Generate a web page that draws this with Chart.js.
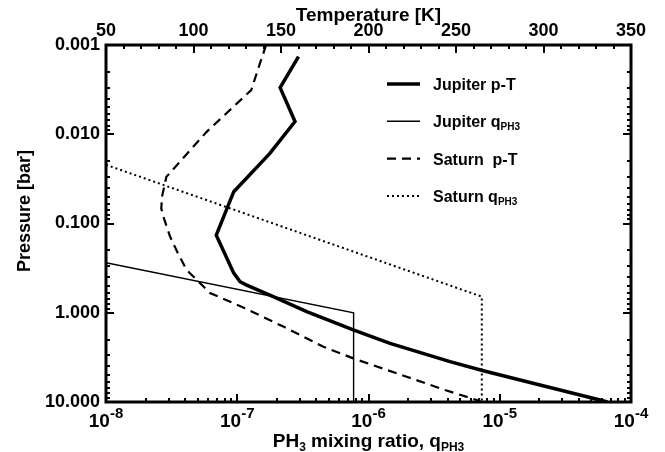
<!DOCTYPE html>
<html><head><meta charset="utf-8">
<script src="https://cdn.jsdelivr.net/npm/chart.js@4"></script>
<style>html,body{margin:0;padding:0;background:#fff}#wrap{width:665px;height:452px;position:relative}</style>
</head><body><div id="wrap"><canvas id="c" width="665" height="452"></canvas></div>
<script>
// ---- data ----
const jupiterTemperature = [160, 149.5, 158, 143.5, 123, 113, 123, 126.6, 130.4, 145.6, 164.7, 191.3, 212.3, 246.6, 265.6, 298, 332.3, 336.5];
const jupiterPressureT   = [0.00135, 0.003, 0.0072, 0.0165, 0.044, 0.135, 0.36, 0.449, 0.49, 0.661, 0.972, 1.56, 2.2, 3.53, 4.46, 6.45, 9.5, 10];
const saturnTemperature  = [141.5, 138, 133, 107.5, 84.5, 82, 81.6, 82.8, 86.6, 91.3, 96, 109.4, 129.4, 151.3, 174.2, 192.3, 221.8, 243.7, 261.8, 264.5];
const saturnPressureT    = [0.001, 0.0016, 0.0032, 0.0094, 0.03, 0.05, 0.068, 0.084, 0.14, 0.22, 0.33, 0.6, 0.891, 1.43, 2.4, 3.3, 5.21, 7.34, 9.5, 10];
const jupiterPH3         = [1e-8, 7.7e-7, 7.7e-7];
const jupiterPressureQ   = [0.275, 1.0, 10];
const saturnPH3          = [1e-8, 7.3e-6, 7.3e-6];
const saturnPressureQ    = [0.022, 0.66, 10];

const seriesNames = ['Jupiter p-T', 'Jupiter q|PH3', 'Saturn  p-T', 'Saturn q|PH3'];
const pressureTickValues = [0.001, 0.01, 0.1, 1, 10];
const pressureTickLabels = ['0.001', '0.010', '0.100', '1.000', '10.000'];
const ph3TickValues = [1e-8, 1e-7, 1e-6, 1e-5, 1e-4];
const ph3TickBases = ['10', '10', '10', '10', '10'];
const ph3TickExponents = ['-8', '-7', '-6', '-5', '-4'];
const temperatureTickValues = [50, 100, 150, 200, 250, 300, 350];
const temperatureTickLabels = ['50', '100', '150', '200', '250', '300', '350'];

// ---- chart ----
const FONT = "'Liberation Sans', Arial, Helvetica, sans-serif";
Chart.defaults.font.family = FONT;
Chart.defaults.font.weight = 'bold';
Chart.defaults.color = '#000';

const pts = (xs, ys) => xs.map((x, i) => ({x: x, y: ys[i]}));

function mixedWidth(ctx, parts) {
  let total = 0;
  parts.forEach(p => { ctx.font = 'bold ' + p[1] + 'px ' + FONT; total += ctx.measureText(p[0]).width; });
  return total;
}
function drawMixed(ctx, parts, x, y, align) {
  const total = mixedWidth(ctx, parts);
  let cx = align === 'center' ? x - total / 2 : x;
  ctx.textAlign = 'left';
  ctx.textBaseline = 'alphabetic';
  parts.forEach(p => {
    ctx.font = 'bold ' + p[1] + 'px ' + FONT;
    ctx.fillText(p[0], cx, y + p[2]);
    cx += ctx.measureText(p[0]).width;
  });
}

const framePlugin = {
  id: 'frameTicks',
  afterDatasetsDraw(chart) {
    const {ctx, chartArea: ca, scales} = chart;
    ctx.save();
    ctx.strokeStyle = '#000';
    ctx.lineWidth = 2;
    ctx.lineCap = 'butt';
    const MAJ = 8, MIN = 4;
    const ys = scales.y;
    for (let d = -3; d <= 1; d++) {
      for (let s = 1; s <= 9; s++) {
        const v = s * Math.pow(10, d);
        if (v > 10.0001) break;
        const py = Math.round(ys.getPixelForValue(v));
        const len = s === 1 ? MAJ : MIN;
        ctx.beginPath();
        ctx.moveTo(ca.left, py); ctx.lineTo(ca.left + len, py);
        ctx.moveTo(ca.right, py); ctx.lineTo(ca.right - len, py);
        ctx.stroke();
      }
    }
    const xs = scales.x;
    for (let d = -8; d <= -4; d++) {
      for (let s = 1; s <= 9; s++) {
        const v = s * Math.pow(10, d);
        if (v > 1.0001e-4) break;
        const px = Math.round(xs.getPixelForValue(v));
        const len = s === 1 ? MAJ : MIN;
        ctx.beginPath();
        ctx.moveTo(px, ca.bottom); ctx.lineTo(px, ca.bottom - len);
        ctx.stroke();
      }
    }
    const ts = scales.xT;
    for (let t = 50; t <= 350; t += 10) {
      const px = Math.round(ts.getPixelForValue(t));
      const len = t % 50 === 0 ? MAJ : MIN;
      ctx.beginPath();
      ctx.moveTo(px, ca.top); ctx.lineTo(px, ca.top + len);
      ctx.stroke();
    }
    ctx.lineWidth = 3;
    ctx.strokeRect(ca.left, ca.top, ca.right - ca.left, ca.bottom - ca.top);
    ctx.restore();
  },
  afterDraw(chart) {
    const {ctx, chartArea: ca, scales} = chart;
    ctx.save();
    ctx.fillStyle = '#000';
    ph3TickValues.forEach((v, i) => {
      const px = scales.x.getPixelForValue(v);
      drawMixed(ctx, [[ph3TickBases[i], 19, 0], [ph3TickExponents[i], 15, -9]], px, 427, 'center');
    });
    drawMixed(ctx, [['PH', 19, 0], ['3', 12, 4], [' mixing ratio, q', 19, 0], ['PH3', 12, 4]], (ca.left + ca.right) / 2, 447, 'center');
    chart.data.datasets.forEach((ds, i) => {
      const y = 84 + i * 37.3;
      ctx.strokeStyle = ds.borderColor;
      ctx.lineWidth = ds.borderWidth;
      ctx.setLineDash(ds.borderDash || []);
      ctx.beginPath();
      ctx.moveTo(387, y); ctx.lineTo(420, y);
      ctx.stroke();
      ctx.setLineDash([]);
      const [main, sub] = ds.label.split('|');
      const parts = [[main, 16, 6]];
      if (sub) parts.push([sub, 10, 9]);
      drawMixed(ctx, parts, 433, y, 'left');
    });
    ctx.restore();
  }
};

new Chart(document.getElementById('c'), {
  type: 'line',
  data: {
    datasets: [
      {label: seriesNames[0], data: pts(jupiterTemperature, jupiterPressureT), xAxisID: 'xT', yAxisID: 'y',
       borderColor: '#000', borderWidth: 3.5, pointRadius: 0, tension: 0, fill: false},
      {label: seriesNames[1], data: pts(jupiterPH3, jupiterPressureQ), xAxisID: 'x', yAxisID: 'y',
       borderColor: '#000', borderWidth: 1.4, pointRadius: 0, tension: 0, fill: false},
      {label: seriesNames[2], data: pts(saturnTemperature, saturnPressureT), xAxisID: 'xT', yAxisID: 'y',
       borderColor: '#000', borderWidth: 2.2, borderDash: [9, 6], pointRadius: 0, tension: 0, fill: false},
      {label: seriesNames[3], data: pts(saturnPH3, saturnPressureQ), xAxisID: 'x', yAxisID: 'y',
       borderColor: '#000', borderWidth: 2, borderDash: [2, 3], pointRadius: 0, tension: 0, fill: false}
    ]
  },
  options: {
    responsive: false,
    animation: false,
    devicePixelRatio: 1,
    layout: {padding: {left: 0, right: 34, top: 0, bottom: 0}},
    plugins: {legend: {display: false}, tooltip: {enabled: false}},
    scales: {
      x: {
        type: 'logarithmic', position: 'bottom', min: 1e-8, max: 1e-4,
        grid: {display: false, drawTicks: false}, border: {display: false},
        afterBuildTicks: s => { s.ticks = ph3TickValues.map(v => ({value: v, major: true})); },
        ticks: {display: false},
        afterFit: s => { s.height = 50; }
      },
      xT: {
        type: 'linear', position: 'top', min: 50, max: 350,
        grid: {display: false, drawTicks: false}, border: {display: false},
        afterBuildTicks: s => { s.ticks = temperatureTickValues.map(v => ({value: v})); },
        ticks: {autoSkip: false, maxRotation: 0, padding: 3, font: {size: 18, weight: 'bold'},
                callback: (v, i) => temperatureTickLabels[i]},
        title: {display: true, text: 'Temperature [K]', font: {size: 19, weight: 'bold'}, padding: {top: 4, bottom: 0}},
        afterFit: s => { s.height = 45; }
      },
      y: {
        type: 'logarithmic', position: 'left', reverse: true, min: 0.001, max: 10,
        grid: {display: false, drawTicks: false}, border: {display: false},
        afterBuildTicks: s => { s.ticks = pressureTickValues.map(v => ({value: v, major: true})); },
        ticks: {autoSkip: false, padding: 6, font: {size: 18, weight: 'bold'},
                callback: (v, i) => pressureTickLabels[i]},
        title: {display: true, text: '     Pressure [bar]', font: {size: 18, weight: 'bold'}, padding: {top: 14, bottom: 0}},
        afterFit: s => { s.width = 106; }
      }
    }
  },
  plugins: [framePlugin]
});
</script>
</body></html>
